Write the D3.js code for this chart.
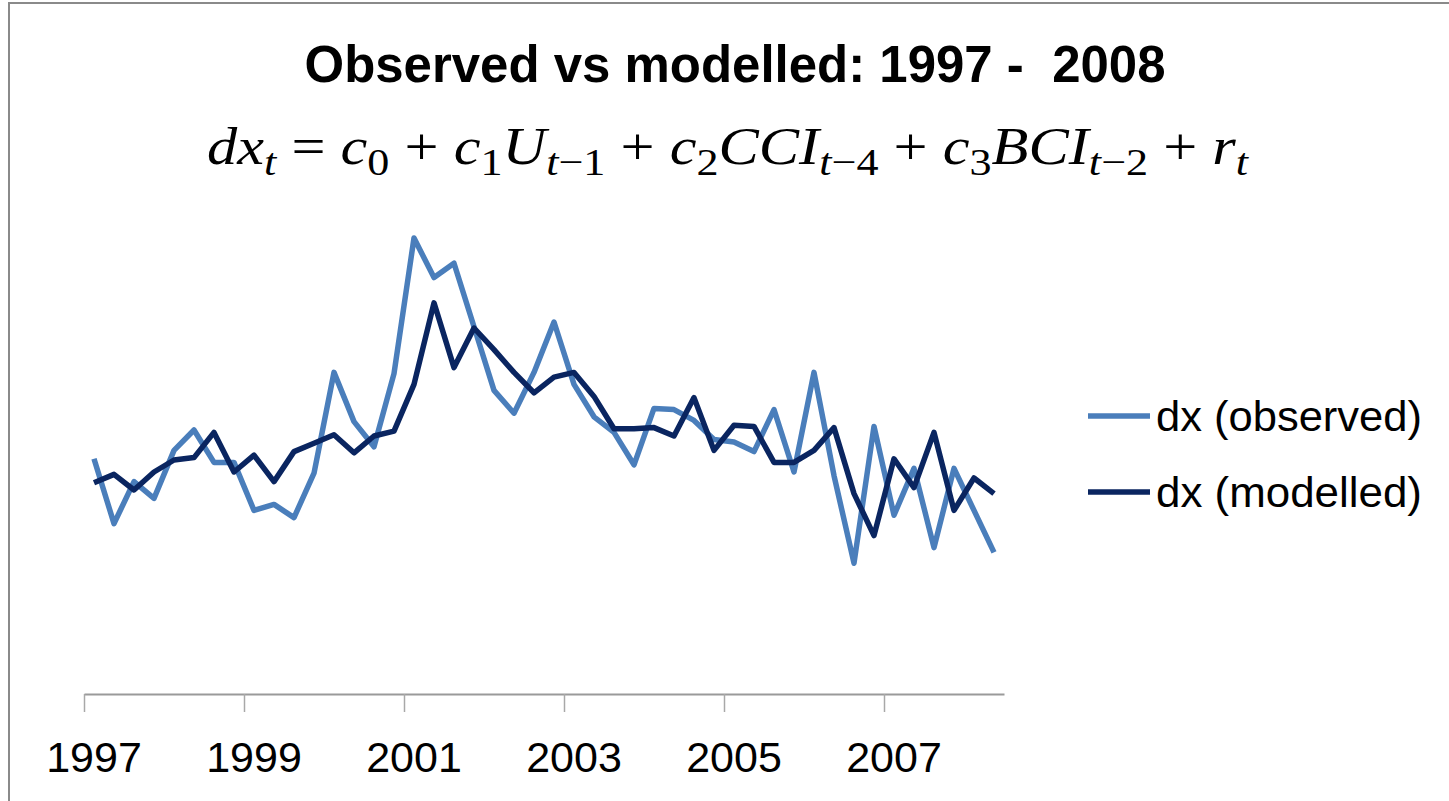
<!DOCTYPE html>
<html>
<head>
<meta charset="utf-8">
<script src="https://cdn.jsdelivr.net/npm/d3@7"></script>
<style>
  body { margin: 0; background: #fff; }
  svg { display: block; }
</style>
</head>
<body>
<div id="container"></div>
<script>
// quarterly values, 1997 Q1 .. 2008 Q2
const tickYears = ["1997", "1999", "2001", "2003", "2005", "2007"];
const observed = [
  -0.04, -0.58, -0.23, -0.37, 0.03, 0.20, -0.07, -0.07,
  -0.47, -0.42, -0.53, -0.16, 0.68, 0.27, 0.06, 0.67,
  1.80, 1.47, 1.59, 1.06, 0.53, 0.34, 0.68, 1.10,
  0.58, 0.31, 0.18, -0.09, 0.38, 0.37, 0.28, 0.12,
  0.10, 0.02, 0.37, -0.15, 0.68, -0.18, -0.91, 0.23,
  -0.51, -0.12, -0.78, -0.12, -0.47, -0.82
];
const modelled = [
  -0.24, -0.17, -0.30, -0.15, -0.05, -0.03, 0.18, -0.15,
  -0.01, -0.23, 0.02, 0.09, 0.16, 0.01, 0.15, 0.19,
  0.58, 1.26, 0.72, 1.05, 0.87, 0.68, 0.51, 0.64,
  0.68, 0.48, 0.21, 0.21, 0.22, 0.15, 0.47, 0.03,
  0.24, 0.23, -0.07, -0.07, 0.03, 0.22, -0.33, -0.68,
  -0.04, -0.28, 0.18, -0.47, -0.20, -0.33
];
const seriesNames = ["dx (observed)", "dx (modelled)"];
const seriesColors = ["#4a7ebb", "#0a2560"];

const W = 1449, H = 801;
const plot = {left: 84, right: 1004, top: 214, bottom: 694};

const svg = d3.select("#container").append("svg")
  .attr("width", W)
  .attr("height", H);

svg.append("rect").attr("width", W).attr("height", H).attr("fill", "#fff");

// chart frame (only left + top edges are visible in the crop)
svg.append("path")
  .attr("d", `M9,${H} V3 H${W}`)
  .attr("fill", "none")
  .attr("stroke", "#8a8a8a")
  .attr("stroke-width", 2);

// scales
const x = d3.scaleLinear()
  .domain([0, observed.length])
  .range([plot.left, plot.right]);
const y = d3.scaleLinear()
  .domain([-2, 2])
  .range([plot.bottom, plot.top]);

// category axis, tick every 8 quarters
const xAxis = svg.append("g")
  .attr("transform", `translate(0,${plot.bottom})`)
  .call(d3.axisBottom(x)
    .tickValues(d3.range(0, observed.length, 8))
    .tickSize(18)
    .tickSizeOuter(0)
    .tickFormat(""));
xAxis.select(".domain").attr("stroke", "#9a9a9a").attr("stroke-width", 2);
xAxis.selectAll(".tick line").attr("stroke", "#a8a8a8").attr("stroke-width", 1.5);

// year labels sit on the first quarter of each year
svg.selectAll(".year")
  .data(tickYears)
  .enter()
  .append("text")
  .attr("class", "year")
  .attr("x", (d, i) => x(i * 8 + 0.5))
  .attr("y", 772)
  .attr("text-anchor", "middle")
  .style("font-family", "'Liberation Sans', Arial, sans-serif")
  .style("font-size", "43px")
  .style("fill", "#000")
  .text(d => d);

// lines
const line = d3.line()
  .x((d, i) => x(i + 0.5))
  .y(d => y(d));

[observed, modelled].forEach((s, k) => {
  svg.append("path")
    .datum(s)
    .attr("fill", "none")
    .attr("stroke", seriesColors[k])
    .attr("stroke-width", 5.5)
    .attr("stroke-linejoin", "round")
    .attr("d", line);
});

// legend
const legend = svg.append("g");
seriesNames.forEach((name, k) => {
  const ly = 416 + k * 76;
  legend.append("line")
    .attr("x1", 1088).attr("x2", 1150)
    .attr("y1", ly).attr("y2", ly)
    .attr("stroke", seriesColors[k])
    .attr("stroke-width", 5.5);
  legend.append("text")
    .attr("x", 1156)
    .attr("y", ly + 15)
    .attr("textLength", 266)
    .attr("lengthAdjust", "spacingAndGlyphs")
    .style("font-family", "'Liberation Sans', Arial, sans-serif")
    .style("font-size", "42px")
    .style("fill", "#000")
    .text(name);
});

// title (keeps the double space before 2008)
svg.append("text")
  .attr("x", 735)
  .attr("y", 82)
  .attr("text-anchor", "middle")
  .attr("textLength", 861)
  .attr("lengthAdjust", "spacingAndGlyphs")
  .style("white-space", "pre")
  .style("font-family", "'Liberation Sans', Arial, sans-serif")
  .style("font-weight", "bold")
  .style("font-size", "52px")
  .style("fill", "#000")
  .text("Observed vs modelled: 1997 -  2008");

// equation: dx_t = c_0 + c_1 U_{t-1} + c_2 CCI_{t-4} + c_3 BCI_{t-2} + r_t
const eqParts = [
  ["dx", "i"], ["t", "s"], [" = ", "n"],
  ["c", "i"], ["0", "sn"], [" + ", "n"],
  ["c", "i"], ["1", "sn"], ["U", "i"], ["t", "s"], ["\u22121", "sn"], [" + ", "n"],
  ["c", "i"], ["2", "sn"], ["CCI", "i"], ["t", "s"], ["\u22124", "sn"], [" + ", "n"],
  ["c", "i"], ["3", "sn"], ["BCI", "i"], ["t", "s"], ["\u22122", "sn"], [" + ", "n"],
  ["r", "i"], ["t", "s"]
];
const eqG = svg.append("g");
const eq = eqG.append("text")
  .attr("x", 0)
  .attr("y", 0)
  .style("white-space", "pre")
  .style("font-family", "'Liberation Serif', 'DejaVu Serif', serif")
  .style("font-size", "52px")
  .style("fill", "#000");
let shift = 0;
eqParts.forEach(([t, kind]) => {
  const sub = kind[0] === "s";
  const target = sub ? 11 : 0;
  eq.append("tspan")
    .attr("dy", target - shift)
    .style("font-size", sub ? "38px" : null)
    .style("font-style", (kind === "i" || kind === "s") ? "italic" : "normal")
    .text(t);
  shift = target;
});
// fit the equation into the box it fills in the reference
const bb = eq.node().getBBox();
const eqLeft = 207, eqRight = 1250, eqBase = 164;
const sx = (eqRight - eqLeft) / bb.width;
eqG.attr("transform", `translate(${eqLeft - bb.x * sx},${eqBase}) scale(${sx},1)`);
</script>
</body>
</html>
